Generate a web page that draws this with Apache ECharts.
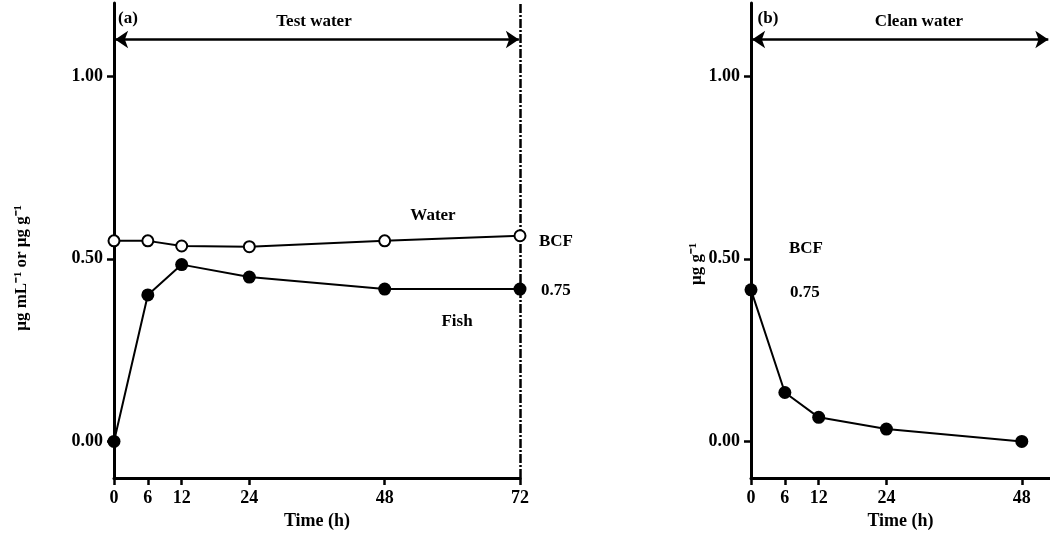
<!DOCTYPE html>
<html>
<head>
<meta charset="utf-8">
<script src="https://cdn.jsdelivr.net/npm/echarts@6/dist/echarts.min.js"></script>
<style>
html,body{margin:0;padding:0;background:#fff;}
#chart{width:1050px;height:536px;}
</style>
</head>
<body>
<div id="chart"></div>
<script>
// ---- data ----
const hoursA = [0, 6, 12, 24, 48, 72];
const waterA = [0.549, 0.549, 0.535, 0.533, 0.549, 0.563];
const fishA = [0.0, 0.401, 0.484, 0.450, 0.417, 0.417];
const hoursB = [0, 6, 12, 24, 48];
const fishB = [0.415, 0.134, 0.066, 0.034, 0.0];
const xTicksA = [0, 6, 12, 24, 48, 72];
const xTicksB = [0, 6, 12, 24, 48];
const yTicks = [0, 0.5, 1.0];

const FONT = 'Liberation Serif';
const pairs = (xs, ys) => xs.map((x, i) => [x, ys[i]]);

const txt = (x, y, s, extra) => ({
  type: 'text', x: x, y: y,
  style: Object.assign({ text: s, font: 'bold 17px "' + FONT + '"', fill: '#000',
    textAlign: 'center', textVerticalAlign: 'middle' }, extra || {})
});

function xAxisCfg(gridIndex, max, ticks) {
  return {
    type: 'value', gridIndex: gridIndex, min: 0, max: max,
    name: 'Time (h)', nameLocation: 'middle', nameGap: 33,
    nameTextStyle: { fontFamily: FONT, fontWeight: 'bold', fontSize: 18, color: '#000' },
    axisLine: { show: true, onZero: false, lineStyle: { color: '#000', width: 3 } },
    axisTick: { show: true, length: 7, customValues: ticks, lineStyle: { color: '#000', width: 2.5 } },
    axisLabel: { customValues: ticks, margin: 11, fontFamily: FONT, fontWeight: 'bold', fontSize: 18, color: '#000' },
    splitLine: { show: false }
  };
}
function yAxisCfg(gridIndex) {
  return {
    type: 'value', gridIndex: gridIndex, min: -0.1, max: 1.2,
    axisLine: { show: true, onZero: false, lineStyle: { color: '#000', width: 3 } },
    axisTick: { show: true, length: 7, customValues: yTicks, lineStyle: { color: '#000', width: 2.5 } },
    axisLabel: { customValues: yTicks, margin: 11, fontFamily: FONT, fontWeight: 'bold', fontSize: 18, color: '#000',
      formatter: v => Number(v).toFixed(2) },
    splitLine: { show: false }
  };
}

const chart = echarts.init(document.getElementById('chart'));
chart.setOption({
  animation: false,
  backgroundColor: '#fff',
  grid: [
    { left: 114, top: 3, width: 406, height: 475 },
    { left: 751, top: 3, width: 299, height: 475 }
  ],
  xAxis: [xAxisCfg(0, 72, xTicksA), xAxisCfg(1, 53, xTicksB)],
  yAxis: [yAxisCfg(0), yAxisCfg(1)],
  series: [
    {
      name: 'Water', type: 'line', xAxisIndex: 0, yAxisIndex: 0,
      data: pairs(hoursA, waterA),
      symbol: 'circle', symbolSize: 11,
      itemStyle: { color: '#fff', borderColor: '#000', borderWidth: 2 },
      lineStyle: { color: '#000', width: 2 },
      z: 3,
      markLine: {
        silent: true, animation: false, z: 1,
        symbol: ['none', 'none'],
        label: { show: false },
        lineStyle: { color: '#000', width: 2.5, type: [9, 2, 2, 2] },
        data: [{ xAxis: 72 }]
      }
    },
    {
      name: 'Fish', type: 'line', xAxisIndex: 0, yAxisIndex: 0,
      data: pairs(hoursA, fishA),
      symbol: 'circle', symbolSize: 13,
      itemStyle: { color: '#000' },
      lineStyle: { color: '#000', width: 2 },
      z: 4,
      markLine: {
        silent: true, animation: false,
        symbol: ['arrow', 'arrow'], symbolSize: [13, 13],
        label: { show: false },
        lineStyle: { color: '#000', width: 2.5, type: 'solid' },
        data: [[{ coord: [0.2, 1.1] }, { coord: [71.8, 1.1] }]]
      }
    },
    {
      name: 'Fish (depuration)', type: 'line', xAxisIndex: 1, yAxisIndex: 1,
      data: pairs(hoursB, fishB),
      symbol: 'circle', symbolSize: 13,
      itemStyle: { color: '#000' },
      lineStyle: { color: '#000', width: 2 },
      z: 4,
      markLine: {
        silent: true, animation: false,
        symbol: ['arrow', 'arrow'], symbolSize: [13, 13],
        label: { show: false },
        lineStyle: { color: '#000', width: 2.5, type: 'solid' },
        data: [[{ coord: [0.2, 1.1] }, { coord: [52.7, 1.1] }]]
      }
    }
  ],
  graphic: [
    txt(128, 19, '(a)'),
    txt(314, 22, 'Test water'),
    txt(433, 216, 'Water'),
    txt(457, 322, 'Fish'),
    txt(539, 242, 'BCF', { textAlign: 'left' }),
    txt(541, 291, '0.75', { textAlign: 'left' }),
    txt(768, 19, '(b)'),
    txt(919, 22, 'Clean water'),
    txt(789, 249, 'BCF', { textAlign: 'left' }),
    txt(790, 293, '0.75', { textAlign: 'left' }),
    { type: 'text', x: 22, y: 268, rotation: Math.PI / 2,
      style: { text: 'μg mL⁻¹ or μg g⁻¹', font: 'bold 17px "' + FONT + '"', fill: '#000',
        textAlign: 'center', textVerticalAlign: 'middle' } },
    { type: 'text', x: 697, y: 264, rotation: Math.PI / 2,
      style: { text: 'μg g⁻¹', font: 'bold 17px "' + FONT + '"', fill: '#000',
        textAlign: 'center', textVerticalAlign: 'middle' } }
  ]
});
</script>
</body>
</html>
